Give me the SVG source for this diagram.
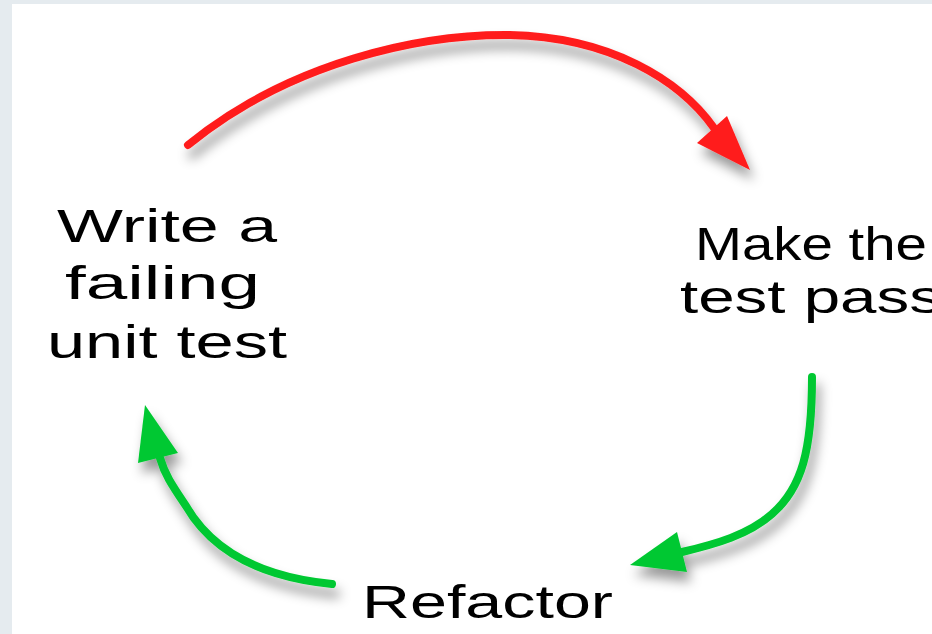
<svg xmlns="http://www.w3.org/2000/svg" width="932" height="634" viewBox="0 0 932 634">
<defs>
<filter id="sh" x="-30%" y="-30%" width="160%" height="160%">
<feDropShadow dx="4" dy="10" stdDeviation="6" flood-color="#000" flood-opacity="0.4"/>
</filter>
</defs>
<style>
.lbl{font-family:"Liberation Sans","DejaVu Sans",sans-serif;font-size:46px;fill:#000;}
.red{stroke:#ff1c1c;fill:none;stroke-width:8;stroke-linecap:round;}
.grn{stroke:#00c832;fill:none;stroke-width:8;stroke-linecap:round;}
.redh{fill:#ff1c1c;}
.grnh{fill:#00c832;}
</style>
<rect x="0" y="0" width="932" height="634" fill="#e5ebef"/>
<rect x="12" y="4" width="920" height="630" fill="#fff"/>
<g id="connectors">
<g id="c-write-make" filter="url(#sh)">
<path class="red" d="M188,145 C290,62 420,34 510,35 C610,37 680,80 714,128"/>
<polygon class="redh" points="750,170 727,116 697,143"/>
</g>
<g id="c-make-refactor" filter="url(#sh)">
<path class="grn" d="M812,377 C812,450 802,488 772,514 C748,535 716,544 682,552"/>
<polygon class="grnh" points="630,565 677,532 687,572"/>
</g>
<g id="c-refactor-write" filter="url(#sh)">
<path class="grn" d="M332,584 C270,578 215,556 186,506 C172,485 165,475 160,458"/>
<polygon class="grnh" points="145,405 138,463 178,453"/>
</g>
</g>
<g id="node-write">
<text class="lbl" x="57" y="242" textLength="220" lengthAdjust="spacingAndGlyphs">Write a</text>
<text class="lbl" x="65" y="299" textLength="195" lengthAdjust="spacingAndGlyphs">failing</text>
<text class="lbl" x="47" y="358" textLength="240" lengthAdjust="spacingAndGlyphs">unit test</text>
</g>
<g id="node-make">
<text class="lbl" x="695" y="260" textLength="232" lengthAdjust="spacingAndGlyphs">Make the</text>
<text class="lbl" x="680" y="313" textLength="262" lengthAdjust="spacingAndGlyphs">test pass</text>
</g>
<g id="node-refactor">
<text class="lbl" x="362" y="618" textLength="251" lengthAdjust="spacingAndGlyphs">Refactor</text>
</g>
</svg>
